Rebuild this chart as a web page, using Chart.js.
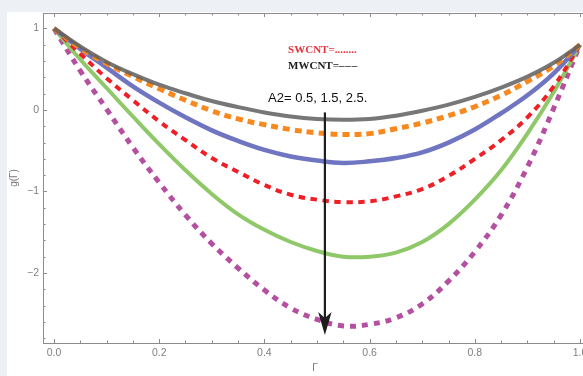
<!DOCTYPE html>
<html>
<head>
<meta charset="utf-8">
<script src="https://cdn.jsdelivr.net/npm/chart.js@4.4.1/dist/chart.umd.min.js"></script>
<style>
  html, body { margin: 0; padding: 0; background: #edf1f5; overflow: hidden; }
  #wrap { position: absolute; left: 7px; top: 12px; width: 593px; height: 364px; background: #fff; }
  canvas { display: block; }
</style>
</head>
<body>
<div id="wrap"><canvas id="gChart" width="593" height="364"></canvas></div>
<script>
// Γ samples and g(Γ) profiles
const gamma = [0, 0.05, 0.1, 0.15, 0.2, 0.25, 0.3, 0.35, 0.4, 0.45, 0.5,
               0.55, 0.6, 0.65, 0.7, 0.75, 0.8, 0.85, 0.9, 0.95, 1];
const gBlack   = [1, 0.78, 0.59, 0.44, 0.31, 0.205, 0.11, 0.035, -0.03, -0.08, -0.11,
                  -0.12, -0.11, -0.07, -0.01, 0.065, 0.16, 0.275, 0.41, 0.58, 0.80];
const gOrange  = [1, 0.76, 0.57, 0.41, 0.26, 0.12, -0.01, -0.11, -0.18, -0.24, -0.28,
                  -0.30, -0.29, -0.23, -0.16, -0.07, 0.04, 0.18, 0.35, 0.54, 0.80];
const gBlue    = [1, 0.75, 0.52, 0.29, 0.09, -0.09, -0.25, -0.38, -0.49, -0.57, -0.62,
                  -0.65, -0.63, -0.59, -0.52, -0.40, -0.24, -0.04, 0.18, 0.45, 0.80];
const gRed     = [1, 0.69, 0.39, 0.12, -0.14, -0.37, -0.59, -0.76, -0.92, -1.04, -1.10,
                  -1.13, -1.12, -1.06, -0.97, -0.81, -0.60, -0.37, -0.09, 0.29, 0.80];
const gGreen   = [1, 0.62, 0.27, -0.08, -0.42, -0.74, -1.03, -1.28, -1.47, -1.62, -1.73,
                  -1.80, -1.80, -1.75, -1.62, -1.40, -1.10, -0.74, -0.29, 0.22, 0.80];
const gMagenta = [1, 0.48, 0.01, -0.46, -0.89, -1.29, -1.64, -1.94, -2.21, -2.43, -2.57,
                  -2.65, -2.63, -2.55, -2.38, -2.10, -1.74, -1.29, -0.70, 0.02, 0.80];

const xTicks = [0, 0.2, 0.4, 0.6, 0.8, 1.0];
const yTicks = [-2, -1, 0, 1];

const A2_TEXT = 'A2= 0.5, 1.5, 2.5.';
const SW_TEXT = 'SWCNT=........';
const MW_TEXT = 'MWCNT=\u2013\u200a\u2013\u200a\u2013';

function pts(ys) {
  return gamma.map((x, i) => ({ x: x, y: ys[i] }));
}

function line(label, ys, color, width, dash) {
  return {
    label: label,
    data: pts(ys),
    borderColor: color,
    borderWidth: width,
    borderDash: dash || [],
    borderCapStyle: 'butt',
    pointRadius: 0,
    fill: false,
    tension: 0.4
  };
}

// frame with inward ticks, arrow and the text notes
const framePlugin = {
  id: 'frame',
  afterDatasetsDraw(chart) {
    const ctx = chart.ctx;
    const a = chart.chartArea;
    const xs = chart.scales.x, ys = chart.scales.y;
    ctx.save();

    ctx.strokeStyle = '#8c8c8c';
    ctx.lineWidth = 1;
    ctx.strokeRect(Math.round(a.left) + 0.5, Math.round(a.top) + 0.5,
                   Math.round(a.right - a.left), Math.round(a.bottom - a.top));

    ctx.beginPath();
    for (let k = 0; k <= 20; k++) {
      const v = k * 0.05;
      const px = Math.round(xs.getPixelForValue(v)) + 0.5;
      const len = (k % 4 === 0) ? 4 : 2.5;
      ctx.moveTo(px, a.bottom); ctx.lineTo(px, a.bottom - len);
      ctx.moveTo(px, a.top); ctx.lineTo(px, a.top + len);
    }
    for (let k = -14; k <= 5; k++) {
      const v = k * 0.2;
      const py = Math.round(ys.getPixelForValue(v)) + 0.5;
      const len = (k % 5 === 0) ? 4 : 2.5;
      ctx.moveTo(a.left, py); ctx.lineTo(a.left + len, py);
      ctx.moveTo(a.right, py); ctx.lineTo(a.right - len, py);
    }
    ctx.stroke();

    // arrow through the minima
    const ax = xs.getPixelForValue(0.515);
    const y0 = ys.getPixelForValue(-0.03);
    const tip = ys.getPixelForValue(-2.76);
    ctx.strokeStyle = '#1e1e1e';
    ctx.lineWidth = 2.2;
    ctx.beginPath();
    ctx.moveTo(ax, y0);
    ctx.lineTo(ax, tip - 14);
    ctx.stroke();
    ctx.fillStyle = '#1e1e1e';
    ctx.beginPath();
    ctx.moveTo(ax, tip);
    ctx.lineTo(ax - 6.7, tip - 23);
    ctx.lineTo(ax, tip - 17);
    ctx.lineTo(ax + 6.7, tip - 23);
    ctx.closePath();
    ctx.fill();

    // notes
    ctx.textAlign = 'left';
    ctx.textBaseline = 'alphabetic';
    ctx.font = 'bold 11px "Liberation Serif", "Times New Roman", serif';
    ctx.fillStyle = '#e8303a';
    ctx.fillText(SW_TEXT, xs.getPixelForValue(0.445), ys.getPixelForValue(0.696));
    ctx.fillStyle = '#1c1c1c';
    ctx.fillText(MW_TEXT, xs.getPixelForValue(0.445), ys.getPixelForValue(0.503));
    ctx.font = '13px "Liberation Sans", Arial, sans-serif';
    ctx.fillStyle = '#111';
    ctx.fillText(A2_TEXT, xs.getPixelForValue(0.407), ys.getPixelForValue(0.102));

    // axis titles
    ctx.fillStyle = '#777';
    ctx.font = '10px "Liberation Sans", Arial, sans-serif';
    ctx.textAlign = 'center';
    ctx.textBaseline = 'middle';
    ctx.fillText('\u0393', (a.left + a.right) / 2 - 2, a.bottom + 25);
    ctx.save();
    ctx.translate(7.5, (a.top + a.bottom) / 2);
    ctx.rotate(-Math.PI / 2);
    ctx.fillText('g(\u0393)', 0, 0);
    ctx.restore();

    ctx.restore();
  }
};

const tickFont = { family: '"Liberation Sans", Arial, sans-serif', size: 10.5 };

new Chart(document.getElementById('gChart'), {
  type: 'line',
  data: {
    datasets: [
      line('A2 = 0.5 a', gBlack, 'rgba(95,95,95,0.85)', 4),
      line('A2 = 0.5 b', gOrange, '#f7891e', 5, [7, 5]),
      line('A2 = 1.5 a', gBlue, '#7075c2', 4.5),
      line('A2 = 1.5 b', gRed, '#ee1f26', 4, [6.5, 5.5]),
      line('A2 = 2.5 a', gGreen, '#8fc868', 4),
      line('A2 = 2.5 b', gMagenta, '#b4509f', 5, [6, 6])
    ]
  },
  options: {
    responsive: false,
    animation: false,
    layout: { padding: { top: 1, right: 9, left: 0, bottom: 0 } },
    plugins: { legend: { display: false }, tooltip: { enabled: false } },
    scales: {
      x: {
        type: 'linear',
        min: -0.0209,
        max: 1.0209,
        afterBuildTicks: s => { s.ticks = xTicks.map(v => ({ value: v })); },
        afterFit: s => { s.height = 33; s.paddingLeft = 0; s.paddingRight = 0; },
        grid: { display: false, drawTicks: false },
        border: { display: false },
        ticks: {
          color: '#7f7f7f',
          font: tickFont,
          padding: 4,
          maxRotation: 0,
          callback: v => v.toFixed(1)
        }
      },
      y: {
        type: 'linear',
        min: -2.859,
        max: 1.19,
        afterBuildTicks: s => { s.ticks = yTicks.map(v => ({ value: v })); },
        afterFit: s => { s.width = 36; s.paddingTop = 0; s.paddingBottom = 0; },
        grid: { display: false, drawTicks: false },
        border: { display: false },
        ticks: {
          color: '#7f7f7f',
          font: tickFont,
          padding: 4,
          callback: v => (v < 0 ? '\u2212' + Math.abs(v) : String(v))
        }
      }
    }
  },
  plugins: [framePlugin]
});
</script>
</body>
</html>
